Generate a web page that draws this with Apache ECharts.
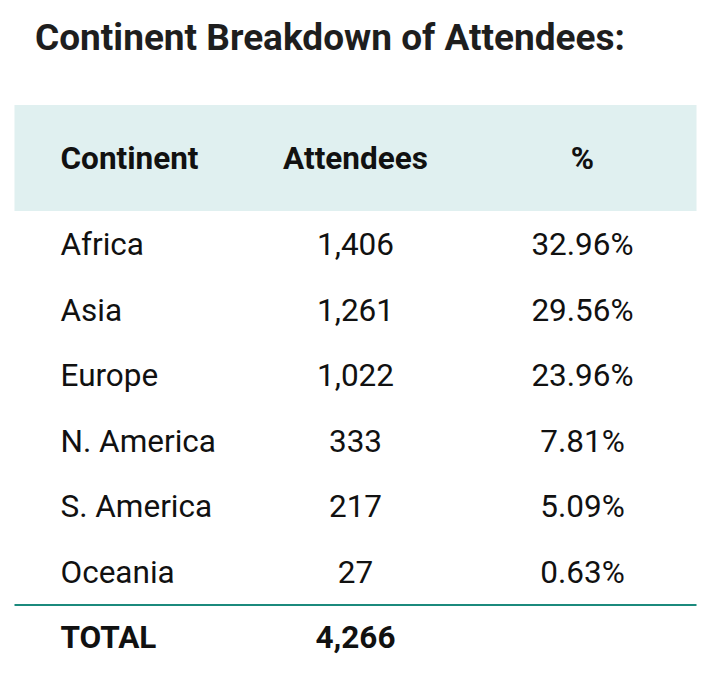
<!DOCTYPE html>
<html>
<head>
<meta charset="utf-8">
<script src="https://cdn.jsdelivr.net/npm/echarts@6/dist/echarts.min.js"></script>
<style>
  html, body { margin: 0; padding: 0; background: #ffffff; }
  #chart { width: 708px; height: 674px; }
</style>
</head>
<body>
<div id="chart"></div>
<script>
// ---- data ----
const titleText = 'Continent Breakdown of Attendees:';
const headers = ['Continent', 'Attendees', '%'];
const continents = ['Africa', 'Asia', 'Europe', 'N. America', 'S. America', 'Oceania'];
const attendees = [1406, 1261, 1022, 333, 217, 27];
const percents = [32.96, 29.56, 23.96, 7.81, 5.09, 0.63];
const totalLabel = 'TOTAL';
const totalAttendees = 4266;

// ---- build ----
const FONT = 'Roboto';
const rowNames = continents.concat([totalLabel]);
const fmtInt = v => v.toLocaleString('en-US');
const fmtPct = v => v.toFixed(2) + '%';

const headerData = headers.map((h, i) => [i, 0, h]);
const bodyData = [];
continents.forEach((c, r) => {
  bodyData.push([0, r, c, 0]);
  bodyData.push([1, r, fmtInt(attendees[r]), 0]);
  bodyData.push([2, r, fmtPct(percents[r]), 0]);
});
bodyData.push([0, continents.length, totalLabel, 1]);
bodyData.push([1, continents.length, fmtInt(totalAttendees), 1]);
bodyData.push([2, continents.length, '', 1]);

const PAD = 45.5;

function cellText(api, x, y, text, bold, align) {
  return {
    type: 'text',
    style: {
      x: x, y: y, text: text,
      fill: '#111111',
      font: (bold ? 'bold ' : '') + '31.5px ' + FONT,
      align: align, verticalAlign: 'middle'
    }
  };
}

const chart = echarts.init(document.getElementById('chart'), null, { renderer: 'svg' });
chart.setOption({
  backgroundColor: '#ffffff',
  animation: false,
  title: {
    text: titleText,
    left: 30, top: 14,
    textStyle: { fontFamily: FONT, fontWeight: 'bold', fontSize: 37, color: '#1e1e1e' }
  },
  grid: [
    { left: 15, right: 12, top: 105, height: 106 },
    { left: 15, right: 12, top: 212, height: 458.5 }
  ],
  xAxis: [
    { type: 'category', gridIndex: 0, data: headers, show: false },
    { type: 'category', gridIndex: 1, data: headers, show: false }
  ],
  yAxis: [
    { type: 'category', gridIndex: 0, data: ['header'], show: false },
    { type: 'category', gridIndex: 1, data: rowNames, inverse: true, show: false }
  ],
  series: [
    {
      type: 'custom',
      xAxisIndex: 0, yAxisIndex: 0,
      data: headerData,
      renderItem: function (params, api) {
        const p = api.coord([api.value(0), api.value(1)]);
        const s = api.size([1, 1]);
        const col = api.value(0);
        const left = p[0] - s[0] / 2;
        const children = [{
          type: 'rect',
          shape: { x: left - 0.5, y: p[1] - s[1] / 2, width: s[0] + 1, height: s[1] },
          style: { fill: '#e0f0f0' }
        }];
        const text = headers[params.dataIndex];
        if (col === 0) children.push(cellText(api, left + PAD, p[1], text, true, 'left'));
        else children.push(cellText(api, p[0], p[1], text, true, 'center'));
        return { type: 'group', children: children };
      }
    },
    {
      type: 'custom',
      xAxisIndex: 1, yAxisIndex: 1,
      data: bodyData,
      renderItem: function (params, api) {
        const p = api.coord([api.value(0), api.value(1)]);
        const s = api.size([1, 1]);
        const col = api.value(0);
        const isTotal = api.value(3) === 1;
        const left = p[0] - s[0] / 2;
        const text = bodyData[params.dataIndex][2];
        const children = [];
        if (isTotal) {
          const yTop = p[1] - s[1] / 2;
          children.push({
            type: 'line',
            shape: { x1: left - 0.5, y1: yTop, x2: left + s[0] + 0.5, y2: yTop },
            style: { stroke: '#1b8a7d', lineWidth: 2 }
          });
        }
        if (col === 0) children.push(cellText(api, left + PAD, p[1], text, isTotal, 'left'));
        else children.push(cellText(api, p[0], p[1], text, isTotal, 'center'));
        return { type: 'group', children: children };
      }
    }
  ]
});
</script>
</body>
</html>
